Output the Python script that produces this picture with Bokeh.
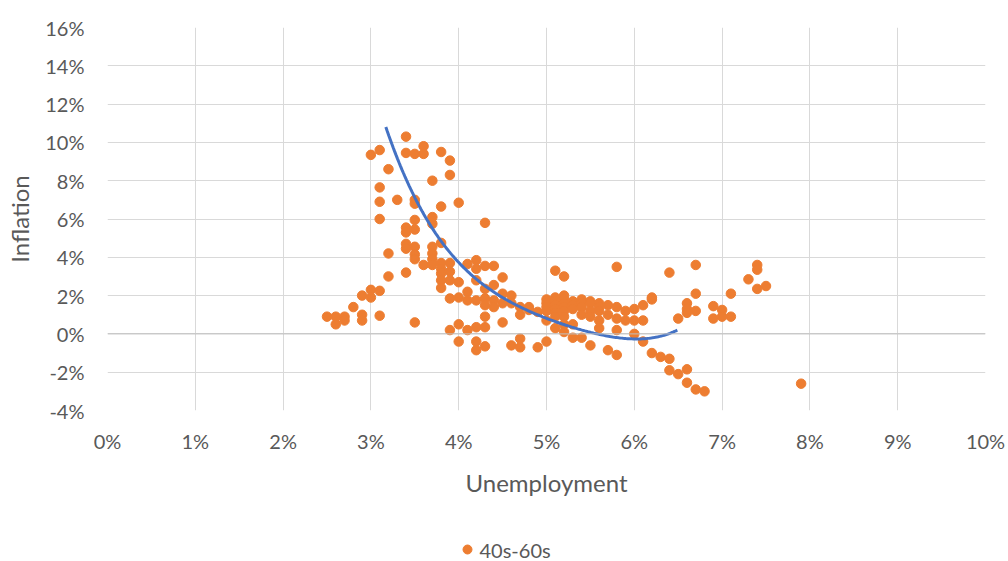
import numpy as np
from bokeh.plotting import figure
from bokeh.layouts import column
from bokeh.models import Range1d, FixedTicker, PrintfTickFormatter, Span
from bokeh.core.properties import value
from bokeh.embed import file_html
from bokeh.resources import INLINE

# Monthly unemployment rate (%) and inflation rate (%), 1940s-1960s
unemployment = [
    2.5, 2.6, 2.6, 2.7, 2.7, 2.8, 2.9, 2.9, 2.9,
    3.0, 3.0, 3.0, 3.1, 3.1, 3.1, 3.1, 3.1, 3.1,
    3.2, 3.2, 3.2, 3.3,
    3.4, 3.4, 3.4, 3.4, 3.4, 3.4, 3.4,
    3.5, 3.5, 3.5, 3.5, 3.5, 3.5, 3.5, 3.5, 3.5,
    3.6, 3.6, 3.6,
    3.7, 3.7, 3.7, 3.7, 3.7, 3.7, 3.7,
    3.8, 3.8, 3.8, 3.8, 3.8, 3.8, 3.8, 3.8,
    3.9, 3.9, 3.9, 3.9, 3.9, 3.9, 3.9,
    4.0, 4.0, 4.0, 4.0, 4.0,
    4.1, 4.1, 4.1, 4.1,
    4.2, 4.2, 4.2, 4.2, 4.2, 4.2, 4.2,
    4.3, 4.3, 4.3, 4.3, 4.3, 4.3, 4.3, 4.3,
    4.4, 4.4, 4.4, 4.4,
    4.5, 4.5, 4.5, 4.5,
    4.6, 4.6, 4.6,
    4.7, 4.7, 4.7, 4.7,
    4.8, 4.8, 4.9, 4.9,
    5.0, 5.0, 5.0, 5.0, 5.0, 5.0,
    5.1, 5.1, 5.1, 5.1, 5.1, 5.1, 5.1, 5.1,
    5.2, 5.2, 5.2, 5.2, 5.2, 5.2, 5.2, 5.2, 5.2,
    5.3, 5.3, 5.3, 5.3, 5.3,
    5.4, 5.4, 5.4, 5.4, 5.4,
    5.5, 5.5, 5.5, 5.5, 5.5,
    5.6, 5.6, 5.6, 5.6, 5.6,
    5.7, 5.7, 5.7,
    5.8, 5.8, 5.8, 5.8, 5.8,
    5.9, 5.9,
    6.0, 6.0, 6.0,
    6.1, 6.1, 6.1,
    6.2, 6.2, 6.2,
    6.3,
    6.4, 6.4, 6.4,
    6.5, 6.5,
    6.6, 6.6, 6.6, 6.6, 6.6,
    6.7, 6.7, 6.7, 6.7,
    6.8,
    6.9, 6.9, 7.0, 7.0, 7.1, 7.1,
    7.3, 7.4, 7.4, 7.4, 7.5, 7.9,
]
inflation = [
    0.9, 0.9, 0.5, 0.9, 0.7, 1.4, 2.0, 1.0, 0.7,
    9.35, 2.3, 1.9, 9.6, 7.65, 6.9, 6.0, 2.25, 0.95,
    8.6, 4.2, 3.0, 7.0,
    10.3, 9.45, 5.55, 5.3, 4.7, 4.45, 3.2,
    9.4, 7.0, 6.8, 5.95, 5.45, 4.55, 4.15, 3.9, 0.6,
    9.8, 9.4, 3.6,
    8.0, 6.1, 5.75, 4.55, 4.2, 3.9, 3.6,
    9.5, 6.65, 4.75, 3.7, 3.4, 3.15, 2.8, 2.4,
    9.05, 8.3, 3.7, 3.25, 2.8, 1.85, 0.2,
    6.85, 2.7, 1.9, 0.5, -0.4,
    3.65, 2.2, 1.75, 0.2,
    3.85, 3.4, 2.8, 1.75, 0.35, -0.4, -0.85,
    5.8, 3.55, 2.35, 1.85, 1.5, 0.9, 0.35, -0.65,
    3.55, 2.55, 1.75, 1.4,
    2.95, 2.1, 1.6, 0.6,
    2.0, 1.6, -0.6,
    1.4, 1.0, -0.25, -0.7,
    1.4, 1.25, 1.15, -0.7,
    1.8, 1.6, 1.4, 1.2, 0.7, -0.4,
    3.3, 1.9, 1.7, 1.5, 1.3, 1.1, 0.9, 0.3,
    3.0, 2.0, 1.8, 1.6, 1.4, 1.2, 0.9, 0.5, 0.1,
    1.7, 1.5, 1.3, 0.5, -0.2,
    1.8, 1.6, 1.4, 1.0, -0.2,
    1.7, 1.6, 1.2, 0.9, -0.6,
    1.6, 1.4, 1.2, 0.7, 0.3,
    1.5, 1.0, -0.85,
    3.5, 1.4, 0.8, 0.2, -1.1,
    1.2, 0.7,
    1.3, 0.7, 0.0,
    1.5, 0.7, -0.4,
    1.9, 1.8, -1.0,
    -1.2,
    3.2, -1.3, -1.9,
    0.8, -2.1,
    1.6, 1.3, 1.1, -1.85, -2.55,
    3.6, 2.1, 1.2, -2.9,
    -3.0,
    1.45, 0.8, 1.25, 0.9, 2.1, 0.9,
    2.85, 3.6, 3.35, 2.35, 2.5, -2.6,
]
assert len(unemployment) == len(inflation)

# Points along the fitted Phillips-curve trend
trend_x = [3.17, 3.29, 3.40, 3.49, 3.63, 3.78, 4.01, 4.35, 4.54, 4.73,
           4.92, 5.11, 5.29, 5.48, 5.71, 5.94, 6.16, 6.39, 6.49]
trend_y = [10.9, 9.4, 8.0, 7.0, 5.9, 5.0, 3.9, 2.4, 1.85, 1.38,
           0.89, 0.54, 0.28, 0.05, -0.12, -0.19, -0.10, 0.02, 0.10]

x_ticks = list(range(0, 11))
y_ticks = list(range(-4, 17, 2))

series_name = "40s-60s"
FONT = "Lato"
TEXT = "#595959"
GRID = "#D9D9D9"
ORANGE = "#ED7D31"
BLUE = "#4472C4"

p = figure(width=1008, height=530, output_backend="svg", toolbar_location=None,
           x_range=Range1d(0, 10), y_range=Range1d(-4, 16),
           min_border_left=107, min_border_right=23,
           min_border_top=27, min_border_bottom=120)
p.outline_line_color = None

for ax in (p.xaxis[0], p.yaxis[0]):
    ax.axis_line_color = None
    ax.major_tick_line_color = None
    ax.minor_tick_line_color = None
    ax.major_tick_out = 0
    ax.major_tick_in = 0
    ax.minor_tick_out = 0
    ax.minor_tick_in = 0
    ax.formatter = PrintfTickFormatter(format="%d%%")
    ax.major_label_text_font = FONT
    ax.major_label_text_font_size = "20px"
    ax.major_label_text_color = TEXT
    ax.axis_label_text_font = FONT
    ax.axis_label_text_font_size = "24px"
    ax.axis_label_text_font_style = "normal"
    ax.axis_label_text_color = TEXT

p.xaxis.ticker = FixedTicker(ticks=x_ticks)
p.yaxis.ticker = FixedTicker(ticks=y_ticks)
p.xaxis.axis_label = "Unemployment"
p.yaxis.axis_label = "Inflation"
p.xaxis.major_label_standoff = 18
p.xaxis.axis_label_standoff = 12
p.yaxis.major_label_standoff = 23
p.yaxis.axis_label_standoff = 8

p.xgrid.ticker = FixedTicker(ticks=x_ticks)
p.ygrid.ticker = FixedTicker(ticks=y_ticks)
p.grid.grid_line_color = GRID
p.grid.grid_line_width = 1

p.add_layout(Span(location=0, dimension="width", line_color="#BFBFBF", line_width=1))

p.scatter(unemployment, inflation, size=9.5, marker="circle",
          fill_color=ORANGE, line_color=ORANGE)

coef = np.polyfit(trend_x, trend_y, 4)
tx = np.linspace(trend_x[0], trend_x[-1], 200)
p.line(tx, np.polyval(coef, tx), line_color=BLUE, line_width=3)

# Legend strip below the chart; its frame lines up with the chart frame
# (pixels 107..985 across), so the range is given in page pixels
leg = figure(width=1008, height=31, output_backend="svg", toolbar_location=None,
             x_range=Range1d(107, 985), y_range=Range1d(0, 31),
             x_axis_location=None, y_axis_location=None,
             min_border=0, outline_line_color=None)
leg.grid.visible = False
leg.scatter([467], [12], size=9, marker="circle", fill_color=ORANGE, line_color=ORANGE)
leg.text([479], [12], text=[series_name], text_font=value(FONT),
         text_font_size="20px", text_color=TEXT, text_baseline="middle",
         text_align="left")

open("out.html", "w").write(file_html(column(p, leg, spacing=0), INLINE))
